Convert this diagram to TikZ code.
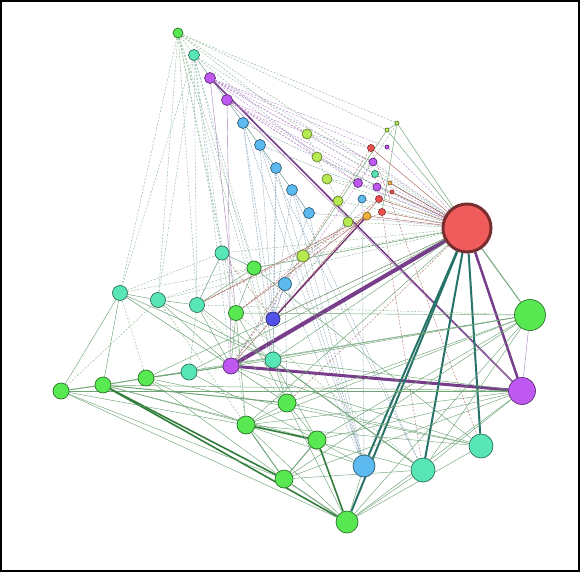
\documentclass[tikz,border=0pt]{standalone}
\usetikzlibrary{backgrounds}
\definecolor{hubred}{RGB}{240,92,92}
\definecolor{ngreen}{RGB}{88,232,82}
\definecolor{nlime}{RGB}{182,232,82}
\definecolor{nteal}{RGB}{88,230,182}
\definecolor{npurple}{RGB}{190,88,240}
\definecolor{nblue}{RGB}{92,186,240}
\definecolor{ndblue}{RGB}{82,82,232}
\definecolor{norange}{RGB}{240,176,64}
\definecolor{nred}{RGB}{236,80,80}
\definecolor{egreen}{RGB}{50,125,60}
\definecolor{eteal}{RGB}{40,115,105}
\definecolor{epurple}{RGB}{105,40,125}
\definecolor{eblue}{RGB}{70,110,140}
\definecolor{ebrown}{RGB}{145,60,50}
\tikzstyle{vertex}=[circle,inner sep=0pt,line width=0.7pt]
\tikzstyle{green node}=[vertex,fill=ngreen,draw=ngreen!50!black]
\tikzstyle{lime node}=[vertex,fill=nlime,draw=nlime!55!black]
\tikzstyle{teal node}=[vertex,fill=nteal,draw=nteal!50!black]
\tikzstyle{purple node}=[vertex,fill=npurple,draw=npurple!50!black]
\tikzstyle{blue node}=[vertex,fill=nblue,draw=nblue!50!black]
\tikzstyle{dblue node}=[vertex,fill=ndblue,draw=ndblue!50!black]
\tikzstyle{orange node}=[vertex,fill=norange,draw=norange!60!black]
\tikzstyle{red node}=[vertex,fill=nred,draw=nred!60!black]
\tikzstyle{every edge}=[draw,line width=0.45pt]
\tikzstyle{gline}=[egreen!70]
\tikzstyle{gdash}=[egreen!55,dash pattern=on 2pt off 1.5pt]
\tikzstyle{gthick}=[egreen,line width=1.6pt]
\tikzstyle{tline}=[eteal!75]
\tikzstyle{tdash}=[eteal!50,dash pattern=on 2pt off 1.5pt]
\tikzstyle{tthick}=[eteal,line width=2pt]
\tikzstyle{pline}=[epurple!55]
\tikzstyle{pdash}=[npurple!70!black!60,dash pattern=on 2pt off 1.5pt]
\tikzstyle{pthick}=[epurple!90,line width=2.5pt]
\tikzstyle{bdash}=[eblue!60,dash pattern=on 2pt off 1pt]
\tikzstyle{rdash}=[ebrown!70,dash pattern=on 2pt off 1.5pt]
\tikzstyle{rline}=[ebrown!80]

\begin{document}
\begin{tikzpicture}[x=1pt,y=-1pt]
  \useasboundingbox (0,0) rectangle (580,572);
  % top strand
  \node[green node,minimum size=10pt]  (gtop) at (178,33) {};
  \node[teal node,minimum size=11pt]   (ttop) at (194,55) {};
  \node[purple node,minimum size=11pt] (pa) at (210,78) {};
  \node[purple node,minimum size=11pt] (pb) at (227,100) {};
  \node[blue node,minimum size=11pt]   (ba) at (243,123) {};
  \node[blue node,minimum size=11pt]   (bb) at (260,145) {};
  \node[blue node,minimum size=11pt]   (bc) at (276,168) {};
  \node[blue node,minimum size=11pt]   (bd) at (292,190) {};
  \node[blue node,minimum size=11pt]   (be) at (309,213) {};
  \node[blue node,minimum size=13pt]   (bf) at (285,284) {};
  \node[dblue node,minimum size=14pt]  (dblue) at (273,319) {};
  % lime strand
  \node[lime node,minimum size=10pt] (la) at (307,134) {};
  \node[lime node,minimum size=10pt] (lb) at (317,157) {};
  \node[lime node,minimum size=10pt] (lc) at (327,179) {};
  \node[lime node,minimum size=10pt] (ld) at (338,201) {};
  \node[lime node,minimum size=10pt] (le) at (348,222) {};
  \node[lime node,minimum size=12pt] (lf) at (303,256) {};
  % small cluster
  \node[red node,minimum size=7pt]    (ra) at (371,148) {};
  \node[purple node,minimum size=8pt] (pc) at (373,162) {};
  \node[teal node,minimum size=7pt]   (tc) at (375,174) {};
  \node[purple node,minimum size=9pt] (pd) at (358,183) {};
  \node[purple node,minimum size=8pt] (pe) at (377,187) {};
  \node[blue node,minimum size=8pt]   (bg) at (362,199) {};
  \node[red node,minimum size=7pt]    (rb) at (379,199) {};
  \node[red node,minimum size=7pt]    (rc) at (382,212) {};
  \node[orange node,minimum size=8pt] (oa) at (367,216) {};
  \node[lime node,minimum size=4pt]   (gs) at (387,130) {};
  \node[purple node,minimum size=4pt] (ps) at (387,147) {};
  \node[orange node,minimum size=4pt] (os) at (390,183) {};
  \node[red node,minimum size=4pt]    (rs) at (392,192) {};
  \node[lime node,minimum size=4pt]   (gt) at (397,123) {};
  % hub and right side
  \node[vertex,fill=hubred,draw=hubred!50!black,line width=3pt,minimum size=48pt] (hub) at (467,228) {};
  \node[green node,minimum size=31pt]  (gbig) at (530,315) {};
  \node[purple node,minimum size=27pt] (pright) at (522,391) {};
  \node[teal node,minimum size=24pt]   (tr1) at (481,446) {};
  \node[teal node,minimum size=24pt]   (tr2) at (423,470) {};
  \node[blue node,minimum size=22pt]   (bblue) at (364,466) {};
  % bottom cluster
  \node[green node,minimum size=22pt] (gbot) at (347,522) {};
  \node[green node,minimum size=18pt] (gb1) at (284,479) {};
  \node[green node,minimum size=18pt] (gb2) at (317,440) {};
  \node[green node,minimum size=18pt] (gb3) at (246,425) {};
  \node[green node,minimum size=18pt] (gb4) at (287,403) {};
  % left row
  \node[green node,minimum size=16pt]  (ga) at (61,391) {};
  \node[green node,minimum size=16pt]  (gb) at (103,385) {};
  \node[green node,minimum size=16pt]  (gc) at (146,378) {};
  \node[teal node,minimum size=16pt]   (tl) at (189,372) {};
  \node[purple node,minimum size=16pt] (pmid) at (231,366) {};
  \node[teal node,minimum size=16pt]   (tm) at (273,360) {};
  % middle left
  \node[teal node,minimum size=15pt]  (tla) at (120,293) {};
  \node[teal node,minimum size=15pt]  (tlb) at (158,300) {};
  \node[teal node,minimum size=15pt]  (tlc) at (197,305) {};
  \node[teal node,minimum size=14pt]  (tld) at (222,253) {};
  \node[green node,minimum size=14pt] (gm1) at (254,268) {};
  \node[green node,minimum size=15pt] (gm2) at (236,313) {};

  \begin{scope}[on background layer]
  \path (gtop) edge[gdash] (ttop) edge[gdash] (tla) edge[gdash] (tlb) edge[gdash] (tlc)
               edge[gdash] (tld) edge[gdash] (gm1) edge[gdash] (gm2) edge[gdash] (tm)
               edge[gdash] (hub) edge[gdash] (gs) edge[gdash] (gt) edge[gdash] (la)
        (ttop) edge[tdash] (tla) edge[tdash] (tlb) edge[tdash] (tlc) edge[tdash] (tld)
               edge[tdash] (gm1) edge[tdash] (pmid) edge[tline] (be) edge[tdash] (hub)
               edge[tdash] (tm) edge[tdash] (lb)
        (pa) edge[pthick,line width=1.6pt] (pright) edge[pline] (gm2)
             edge[pdash] (hub) edge[pdash] (ra) edge[pdash] (pc) edge[pdash] (ps)
             edge[pdash] (pd) edge[pdash] (la)
        (pb) edge[pline] (pmid) edge[pline] (pright) edge[pdash] (hub)
             edge[pdash] (pe) edge[pdash] (pd) edge[pdash] (pc) edge[pdash] (lb)
        (ba) edge[bdash] (bblue) edge[bdash] (dblue) edge[bdash] (tm) edge[bdash] (hub)
        (bb) edge[bdash] (bblue) edge[bdash] (dblue) edge[bdash] (tr2) edge[bdash] (hub)
        (bc) edge[bdash] (bblue) edge[bdash] (dblue) edge[bdash] (tm)
        (bd) edge[bdash] (bblue) edge[bdash] (dblue) edge[bdash] (tr2)
        (be) edge[bdash] (bblue) edge[bdash] (dblue) edge[bdash] (hub)
        (bf) edge[bdash] (bblue) edge[bdash] (dblue) edge[bdash] (gb4)
        (bg) edge[bdash] (bblue) edge[bdash] (hub) edge[bdash] (dblue)
        (la) edge[gdash] (hub) edge[gdash] (lb) edge[gdash] (ra)
        (lb) edge[gdash] (hub) edge[gdash] (lc)
        (lc) edge[gdash] (hub) edge[gdash] (ld) edge[gdash] (pe)
        (ld) edge[gdash] (hub) edge[gdash] (le)
        (le) edge[gdash] (hub) edge[gdash] (lf)
        (lf) edge[gline] (gs) edge[gdash] (hub) edge[gdash] (pmid)
        (gs) edge[gline] (hub) edge[gline] (gt)
        (gt) edge[gline] (hub) edge[gline] (rc) edge[gdash] (pd)
        (ra) edge[rline] (hub) edge[rdash] (tr1) edge[rdash] (pmid)
        (pc) edge[pdash] (hub) (tc) edge[tdash] (hub) (pd) edge[pdash] (hub)
        (pe) edge[pdash] (hub) (ps) edge[pdash] (hub)
        (rb) edge[rline] (hub) edge[rline] (pmid) edge[rdash] (gm2)
        (rc) edge[rline] (hub) edge[rdash] (tr2) edge[rdash] (tlc)
        (os) edge[rline] (hub) (rs) edge[rline] (hub)
        (oa) edge[rline] (hub) edge[rline] (gm2) edge[rline] (tlc)
        (dblue) edge[epurple!80!ebrown,line width=1.3pt] (oa) edge[rdash] (hub) edge[rdash] (tld)
        (pmid) edge[pthick,line width=4pt] (hub) edge[pthick,line width=3pt] (pright)
               edge[pdash] (pc) edge[gline] (tl) edge[gline] (gb4) edge[gline] (tr1)
        (hub) edge[pthick] (pright) edge[tthick] (tr1) edge[tthick] (tr2)
              edge[tthick] (bblue) edge[tthick] (gbot) edge[gline,line width=1pt] (gbig)
              edge[gdash] (tla) edge[gdash] (tlb) edge[gline] (tm) edge[gline] (gm1)
              edge[rdash] (gb4) edge[gdash] (tld) edge[gline] (gb3) edge[gline] (tl)
        (gbig) edge[pline] (pright) edge[gline] (tm) edge[gline] (gm2) edge[gline] (tl)
               edge[gline] (gb4) edge[gline] (gb3) edge[gline] (gb2) edge[gline] (gb1)
               edge[gline] (gc) edge[gline] (tr2) edge[gline] (gbot) edge[gdash] (tlc)
        (pright) edge[gline] (gbot) edge[gline] (gb3) edge[gline] (gb2) edge[gline] (gb)
                 edge[gline] (ga) edge[gline] (tr2) edge[gline] (tm) edge[gline] (gb1)
        (tr1) edge[gline] (gbot) edge[gline] (gb4) edge[gline] (gc) edge[gline] (gb3)
        (tr2) edge[gline] (gbot) edge[gline] (gb1) edge[gline] (gb) edge[gline,line width=1pt] (tm)
        (bblue) edge[gline] (gbot) edge[gline] (gb2) edge[gline] (gb3)
        (gb) edge[gthick] (gbot) edge[gthick] (gb1) edge[gline,line width=1pt] (gb4)
             edge[gline,line width=1pt] (gc) edge[gline] (gb2) edge[gline] (tla)
        (ga) edge[gline,line width=1pt] (gb) edge[gline] (gbot) edge[gline] (gb1)
             edge[gline] (gb3) edge[gline] (tla) edge[gdash] (tlb) edge[gdash] (pmid)
        (gc) edge[gline,line width=1pt] (tl) edge[gline] (gb3) edge[gline] (gb1)
             edge[gdash] (tla) edge[gline] (hub)
        (tl) edge[gline] (pmid) edge[gline] (gb2) edge[gdash] (tlc)
        (gb3) edge[gthick] (gb2) edge[gline,line width=1pt] (gb1) edge[gline] (gbot)
        (gb2) edge[gline,line width=1pt] (gb1) edge[gthick] (gbot)
        (gb1) edge[gline,line width=1pt] (gbot)
        (gb4) edge[gline] (gb3) edge[gline] (gb2) edge[gline] (gbot)
        (tm) edge[gline] (pmid) edge[gline] (gb2) edge[gline] (gb4) edge[tdash] (dblue)
        (tla) edge[gline] (tlb) edge[gline] (pmid) edge[gline] (tm) edge[gdash] (tld)
              edge[gdash] (gb4)
        (tlb) edge[gline] (tlc) edge[gline] (pmid) edge[gline] (tm) edge[gdash] (gb3)
              edge[gdash] (gm1)
        (tlc) edge[gline] (pmid) edge[gline] (gm1) edge[gline] (tm) edge[gdash] (gb4)
        (tld) edge[tline] (gm1) edge[tline] (tlc) edge[tdash] (tm) edge[tdash] (gb3)
        (gm1) edge[gline] (gm2) edge[gdash] (gb4) edge[gline] (tr1)
        (gm2) edge[gline] (pmid) edge[gline] (gb3) edge[gline] (gb4) edge[gdash] (tr2);
  \end{scope}
  \draw[line width=2pt] (1,1) rectangle (579,571);
\end{tikzpicture}
\end{document}
